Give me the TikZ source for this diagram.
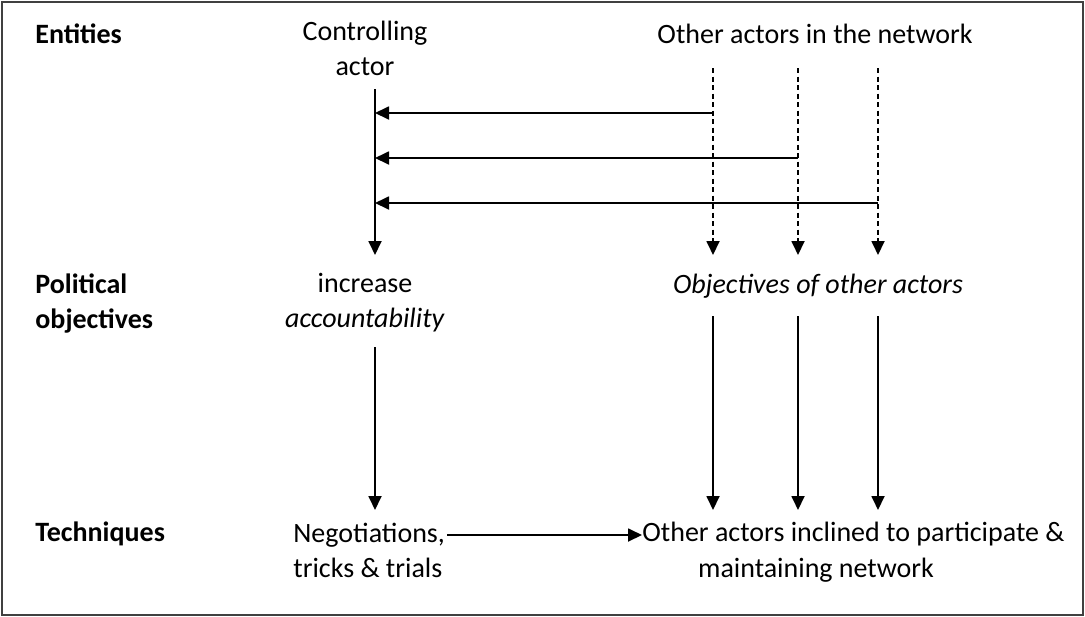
\documentclass[tikz,border=0pt]{standalone}
\usepackage{fontspec}
\setmainfont{Carlito}
\usetikzlibrary{arrows.meta}
\begin{document}
\begin{tikzpicture}[x=0.5pt,y=-0.5pt,
  lbl/.style={font=\fontsize{14}{17.5}\selectfont, align=center, inner sep=0pt, anchor=base},
  rowlbl/.style={font=\fontsize{14}{17.5}\selectfont\bfseries, align=left, anchor=base west, inner sep=0pt},
  conn/.style={line width=0.9pt, -{Triangle[length=7pt,width=6.5pt]}},
  dashconn/.style={conn, dash pattern=on 2.5pt off 1.75pt}]
\useasboundingbox (0,0) rectangle (1085,616);
% outer frame
\draw[line width=0.8pt, black!75] (2,2) rectangle (1083,615);

% row headings (base = baseline of the last line)
\node[rowlbl] (hEnt) at (35,43) {Entities};
\node[rowlbl] (hPol) at (35,328) {Political\\objectives};
\node[rowlbl] (hTec) at (35,541) {Techniques};

% entities
\node[lbl] (ctrl) at (365,75) {Controlling\\actor};
\node[lbl] (others) at (815,43) {Other actors in the network};

% objectives
\node[lbl] (incr) at (365,327) {increase\\\textit{accountability}};
\node[lbl] (objo) at (818,293) {\textit{Objectives of other actors}};

% techniques
\node[lbl, align=left, anchor=base west] (neg) at (293,577) {Negotiations,\\tricks \& trials};
\node[lbl, anchor=base west] (inc) at (642,541) {Other actors inclined to participate \&};
\node[lbl] (net) at (816,577) {maintaining network};

% column points of the controlling actor
\coordinate (c0) at (375,89);
\coordinate (c1) at (375,255);
\coordinate (c2) at (375,347);
\coordinate (c3) at (375,510);
% column points of the other actors
\foreach \n/\x in {1/713,2/798,3/878}{
  \coordinate (a\n) at (\x,68);
  \coordinate (b\n) at (\x,255);
  \coordinate (e\n) at (\x,316);
  \coordinate (f\n) at (\x,510);
}
\coordinate (h1) at (713,113);
\coordinate (h2) at (798,158);
\coordinate (h3) at (878,203);

% controlling actor column
\draw[conn] (c0) -- (c1);
\draw[conn] (c2) -- (c3);

% other actors: dashed links to their objectives, feedback to the controller
\foreach \n in {1,2,3}{
  \draw[dashconn] (a\n) -- (b\n);
  \draw[conn] (e\n) -- (f\n);
  \draw[conn] (h\n) -- (h\n -| c0);
}

% negotiations lead to participation
\coordinate (t0) at (447,535);
\draw[conn] (t0) -- (t0 -| inc.west);
\end{tikzpicture}
\end{document}
